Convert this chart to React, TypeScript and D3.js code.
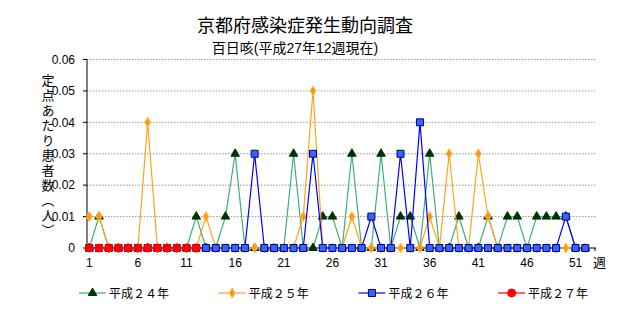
import React, { useEffect, useRef } from 'react';
import * as d3 from 'd3';

// weekly values per sentinel
const weeks = d3.range(1, 53);
const h24 = [0, 0.01, 0, 0, 0, 0, 0, 0, 0, 0, 0, 0.01, 0, 0, 0.01, 0.03, 0, 0, 0, 0, 0, 0.03, 0, 0, 0.01, 0.01,
  0, 0.03, 0, 0, 0.03, 0, 0.01, 0.01, 0, 0.03, 0, 0, 0.01, 0, 0, 0.01, 0, 0.01, 0.01, 0, 0.01, 0.01, 0.01, 0.01, 0, 0];
const h25 = [0.01, 0.01, 0, 0, 0, 0, 0.04, 0, 0, 0, 0, 0, 0.01, 0, 0, 0, 0, 0, 0, 0, 0, 0, 0.01, 0.05, 0, 0,
  0, 0.01, 0, 0, 0, 0, 0, 0, 0, 0.01, 0, 0.03, 0, 0, 0.03, 0.01, 0, 0, 0, 0, 0, 0, 0, 0, 0, 0];
const h26 = [0, 0, 0, 0, 0, 0, 0, 0, 0, 0, 0, 0, 0, 0, 0, 0, 0, 0.03, 0, 0, 0, 0, 0, 0.03, 0, 0,
  0, 0, 0, 0.01, 0, 0, 0.03, 0, 0.04, 0, 0, 0, 0, 0, 0, 0, 0, 0, 0, 0, 0, 0, 0, 0.01, 0, 0];
const h27 = [0, 0, 0, 0, 0, 0, 0, 0, 0, 0, 0, 0];

const seriesNames = ['平成２４年', '平成２５年', '平成２６年', '平成２７年'];
const yTicks = [0, 0.01, 0.02, 0.03, 0.04, 0.05, 0.06];
const yTickLabels = ['0', '0.01', '0.02', '0.03', '0.04', '0.05', '0.06'];
const xTicks = [1, 6, 11, 16, 21, 26, 31, 36, 41, 46, 51];

const FONT = '"Liberation Sans", "Noto Sans CJK JP", sans-serif';

const App: React.FC = () => {
  const ref = useRef<SVGSVGElement>(null);

  useEffect(() => {
    if (!ref.current) return;
    const svg = d3.select(ref.current);
    svg.selectAll('*').remove();

    const left = 87, right = 596;
    const x = d3.scaleLinear().domain([1, 52]).range([89.3, 585.3]);
    const y = d3.scaleLinear().domain([0, 0.06]).range([248, 59.5]);

    svg.append('rect').attr('width', 644).attr('height', 310).attr('fill', '#fff');

    // title
    svg.append('text').attr('x', 305).attr('y', 31.5).attr('text-anchor', 'middle')
      .attr('font-size', 18).attr('font-family', FONT).text('京都府感染症発生動向調査');
    svg.append('text').attr('x', 295).attr('y', 53).attr('text-anchor', 'middle')
      .attr('font-size', 14).attr('font-family', FONT).text('百日咳(平成27年12週現在)');

    // grid
    svg.append('g').selectAll('line').data(yTicks.slice(1)).join('line')
      .attr('x1', left).attr('x2', right)
      .attr('y1', d => y(d)).attr('y2', d => y(d))
      .attr('stroke', '#999').attr('stroke-dasharray', '1.5,1.5');

    // axes
    svg.append('line').attr('x1', left).attr('x2', left).attr('y1', y(0.06)).attr('y2', y(0)).attr('stroke', '#000');
    svg.append('line').attr('x1', left).attr('x2', right).attr('y1', y(0)).attr('y2', y(0)).attr('stroke', '#000');
    svg.append('g').selectAll('line').data(yTicks).join('line')
      .attr('x1', left - 4).attr('x2', left).attr('y1', d => y(d)).attr('y2', d => y(d)).attr('stroke', '#000');
    svg.append('g').selectAll('line').data(d3.range(1, 54)).join('line')
      .attr('x1', d => x(d)).attr('x2', d => x(d)).attr('y1', y(0)).attr('y2', y(0) + 3).attr('stroke', '#000');

    svg.append('g').selectAll('text').data(yTicks).join('text')
      .attr('x', 75).attr('y', d => y(d) + 4.3).attr('text-anchor', 'end')
      .attr('font-size', 12).attr('font-family', FONT)
      .text((d, i) => yTickLabels[i]);
    svg.append('g').selectAll('text').data(xTicks).join('text')
      .attr('x', d => x(d)).attr('y', 266.5).attr('text-anchor', 'middle')
      .attr('font-size', 12).attr('font-family', FONT).text(d => String(d));
    svg.append('text').attr('x', 593).attr('y', 267).attr('font-size', 13).attr('font-family', FONT).text('週');

    svg.append('text').attr('x', 47).attr('y', 74)
      .style('writing-mode', 'vertical-rl')
      .attr('font-size', 13).attr('letter-spacing', 2).attr('font-family', FONT)
      .text('定点あたり患者数（人）');

    const series = [
      { values: h24, line: '#3DAE7A', symbol: d3.symbolTriangle, size: 32, fill: '#003300', stroke: '#003300' },
      { values: h25, line: '#FFA31A', symbol: d3.symbolDiamond, size: 28, fill: '#FF9900', stroke: '#FFB84D' },
      { values: h26, line: '#0000FF', symbol: d3.symbolSquare, size: 49, fill: '#3366FF', stroke: '#000080' },
      { values: h27, line: '#FF0000', symbol: d3.symbolCircle, size: 50, fill: '#FF0000', stroke: '#FF0000' },
    ];

    const line = d3.line<number>().x((d, i) => x(weeks[i])).y(d => y(d));

    series.forEach(s => {
      const g = svg.append('g');
      g.append('path').attr('d', line(s.values) as string)
        .attr('fill', 'none').attr('stroke', s.line).attr('stroke-width', 1.2);
      g.selectAll('path.m').data(s.values).join('path').attr('class', 'm')
        .attr('transform', (d, i) => `translate(${x(weeks[i])},${y(d)})`)
        .attr('d', d3.symbol().type(s.symbol).size(s.size)() as string)
        .attr('fill', s.fill).attr('stroke', s.stroke).attr('stroke-width', 1);
    });

    // legend
    const lg = svg.append('g').selectAll('g').data(series).join('g')
      .attr('transform', (d, i) => `translate(${79 + i * 139.7},293)`);
    lg.append('line').attr('x1', 0).attr('x2', 27).attr('stroke', d => d.line).attr('stroke-width', 1.2);
    lg.append('path').attr('transform', 'translate(13.5,0)')
      .attr('d', d => d3.symbol().type(d.symbol).size(d.size)() as string)
      .attr('fill', d => d.fill).attr('stroke', d => d.stroke);
    lg.append('text').attr('x', 30).attr('y', 4.5).attr('font-size', 12).attr('font-family', FONT)
      .text((d, i) => seriesNames[i]);
  }, []);

  return <svg ref={ref} width={644} height={310} style={{ position: 'absolute', left: 0, top: 0 }}></svg>;
};

export default App;
